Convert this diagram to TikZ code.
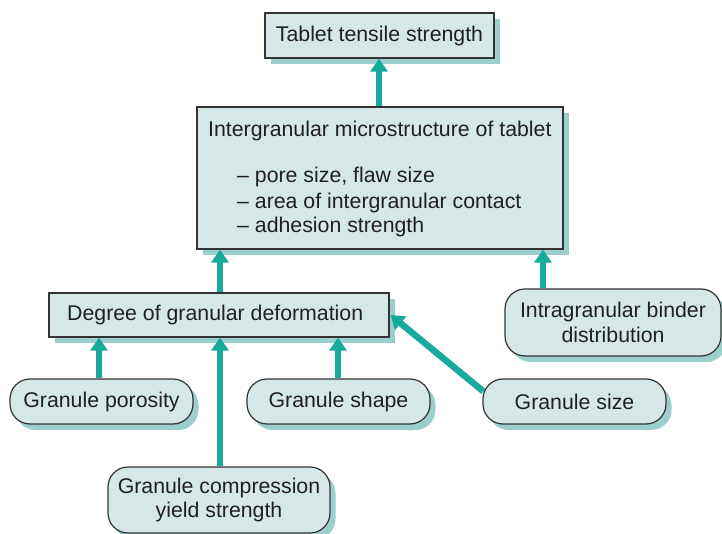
\documentclass[tikz,border=0pt]{standalone}
\usepackage{fontspec}
\setmainfont{Liberation Sans}
\usetikzlibrary{arrows.meta,shadows,calc}
\definecolor{boxfill}{HTML}{D5E8E7}
\definecolor{shadowcol}{HTML}{9ACFCB}
\definecolor{arrowcol}{HTML}{18AA9C}
\definecolor{bordercol}{HTML}{333333}
\definecolor{textcol}{HTML}{231F20}
\begin{document}
\begin{tikzpicture}[x=1pt,y=-1pt,
  font=\fontsize{21.3}{24.5}\selectfont,
  base/.style={draw=bordercol,line width=1.2pt,fill=boxfill,text=textcol,inner sep=0pt,
    drop shadow={shadow xshift=5.5pt,shadow yshift=-6pt,fill=shadowcol,opacity=1}},
  sqbox/.style={base,rectangle},
  rbox/.style={base,rectangle,rounded corners=20pt,align=center},
  txt/.style={text=textcol,inner sep=0pt,anchor=west},
  arr/.style={draw=arrowcol,line width=6.5pt,-{Triangle[width=17pt,length=13pt]}}]
\useasboundingbox (0,0) rectangle (722,534);

\node[sqbox,minimum width=229pt,minimum height=45pt] (tab) at (379.5,35.5) {Tablet tensile strength};
\node[sqbox,minimum width=366pt,minimum height=142pt] (ig) at (380,178) {};
\node[txt] (igt) at (208,131) {Intergranular microstructure of tablet};
\node[txt] (b1) at (237,177) {– pore size, flaw size};
\node[txt] (b2) at (237,203) {– area of intergranular contact};
\node[txt] (b3) at (237,227) {– adhesion strength};

\node[sqbox,minimum width=340pt,minimum height=44pt] (deg) at (219,315) {};
\node[txt] (degt) at (67,315) {Degree of granular deformation};

\node[rbox,minimum width=216pt,minimum height=67pt] (intra) at (613,322.5) {Intragranular binder\\[0pt]distribution};
\node[rbox,minimum width=183pt,minimum height=45pt] (por) at (101.5,401.5) {Granule porosity};
\node[rbox,minimum width=183pt,minimum height=45pt] (shape) at (338.5,401.5) {Granule shape};
\node[rbox,minimum width=183pt,minimum height=45pt] (size) at (574.5,401.5) {Granule size};
\node[rbox,minimum width=222pt,minimum height=66pt] (comp) at (219,500) {Granule compression\\[0pt]yield strength};

\draw[arr] (ig.north -| 379,0) -- (tab.south -| 379,0);
\draw[arr] (deg.north -| 220,0) -- (ig.south -| 220,0);
\draw[arr] (intra.north -| 543,0) -- (ig.south -| 543,0);
\draw[arr] (por.north -| 99,0) -- (deg.south -| 99,0);
\draw[arr] (comp.north -| 220,0) -- (deg.south -| 220,0);
\draw[arr] (shape.north -| 338,0) -- (deg.south -| 338,0);
\draw[arr] ($(size.north west)+(1,13)$) -- ($(deg.east)+(1,0)$);
\end{tikzpicture}
\end{document}
